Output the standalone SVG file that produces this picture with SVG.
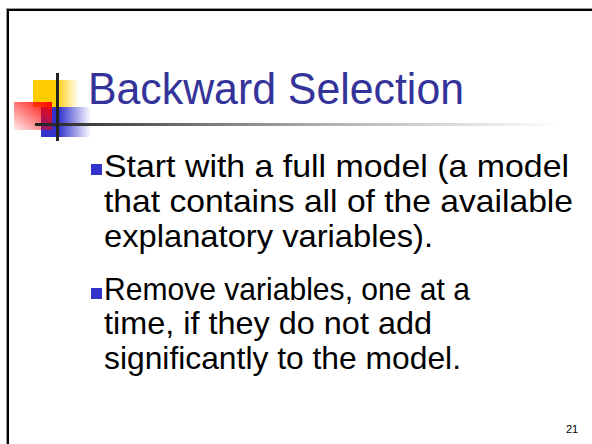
<svg xmlns="http://www.w3.org/2000/svg" width="592" height="444" viewBox="0 0 592 444">
  <style>
    .title { font-family: "Liberation Sans", Arial, sans-serif; font-size: 45px; fill: #333399; }
    .body { font-family: "Liberation Sans", Arial, sans-serif; font-size: 32px; fill: #000000; }
    .bullet { fill: #3333cc; }
    .pagenum { font-family: "Liberation Sans", Arial, sans-serif; font-size: 11px; fill: #000000; }
  </style>
  <defs>
    <linearGradient id="yellowFade" x1="0" y1="0" x2="1" y2="0">
      <stop offset="0" stop-color="#ffcc00"/>
      <stop offset="0.5" stop-color="#ffcc00"/>
      <stop offset="1" stop-color="#ffcc00" stop-opacity="0"/>
    </linearGradient>
    <linearGradient id="blueFade" x1="0" y1="0" x2="1" y2="0">
      <stop offset="0" stop-color="#3333cc"/>
      <stop offset="0.35" stop-color="#3333cc"/>
      <stop offset="1" stop-color="#3333cc" stop-opacity="0"/>
    </linearGradient>
    <linearGradient id="redFade" x1="1" y1="0" x2="0" y2="1">
      <stop offset="0" stop-color="#ff0000"/>
      <stop offset="1" stop-color="#ff0000" stop-opacity="0.08"/>
    </linearGradient>
    <linearGradient id="ruleFade" x1="0" y1="0" x2="1" y2="0">
      <stop offset="0" stop-color="#222222"/>
      <stop offset="0.25" stop-color="#666666"/>
      <stop offset="0.55" stop-color="#b0b0b0"/>
      <stop offset="1" stop-color="#ffffff"/>
    </linearGradient>
  </defs>

  <rect width="592" height="444" fill="#ffffff"/>

  <!-- slide frame -->
  <g id="frame">
    <rect x="6.5" y="8.5" width="600" height="450" fill="none" stroke="#999999" stroke-width="1"/>
    <rect x="8" y="10" width="600" height="450" fill="none" stroke="#000000" stroke-width="2"/>
  </g>

  <!-- title ornament -->
  <g id="logo">
    <rect x="33" y="80" width="46" height="27" fill="url(#yellowFade)"/>
    <rect x="41" y="107" width="50" height="30" fill="url(#blueFade)"/>
    <rect x="14" y="102" width="38" height="28" fill="url(#redFade)"/>
    <rect x="35" y="123" width="527" height="3" fill="url(#ruleFade)"/>
    <rect x="56" y="73" width="3" height="68" fill="#222222"/>
  </g>

  <g id="title">
    <text class="title" x="88" y="104" textLength="376" lengthAdjust="spacingAndGlyphs">Backward Selection</text>
  </g>

  <g id="bullet1">
    <rect class="bullet" x="91" y="164" width="11" height="11"/>
    <text class="body" x="104" y="177" textLength="465" lengthAdjust="spacingAndGlyphs">Start with a full model (a model</text>
    <text class="body" x="104" y="212" textLength="469" lengthAdjust="spacingAndGlyphs">that contains all of the available</text>
    <text class="body" x="104" y="247" textLength="329" lengthAdjust="spacingAndGlyphs">explanatory variables).</text>
  </g>

  <g id="bullet2">
    <rect class="bullet" x="91" y="288" width="11" height="11"/>
    <text class="body" x="104" y="300" textLength="366" lengthAdjust="spacingAndGlyphs">Remove variables, one at a</text>
    <text class="body" x="104" y="334" textLength="328" lengthAdjust="spacingAndGlyphs">time, if they do not add</text>
    <text class="body" x="104" y="369" textLength="357" lengthAdjust="spacingAndGlyphs">significantly to the model.</text>
  </g>

  <g id="page-number">
    <text class="pagenum" x="566" y="433">21</text>
  </g>
</svg>
